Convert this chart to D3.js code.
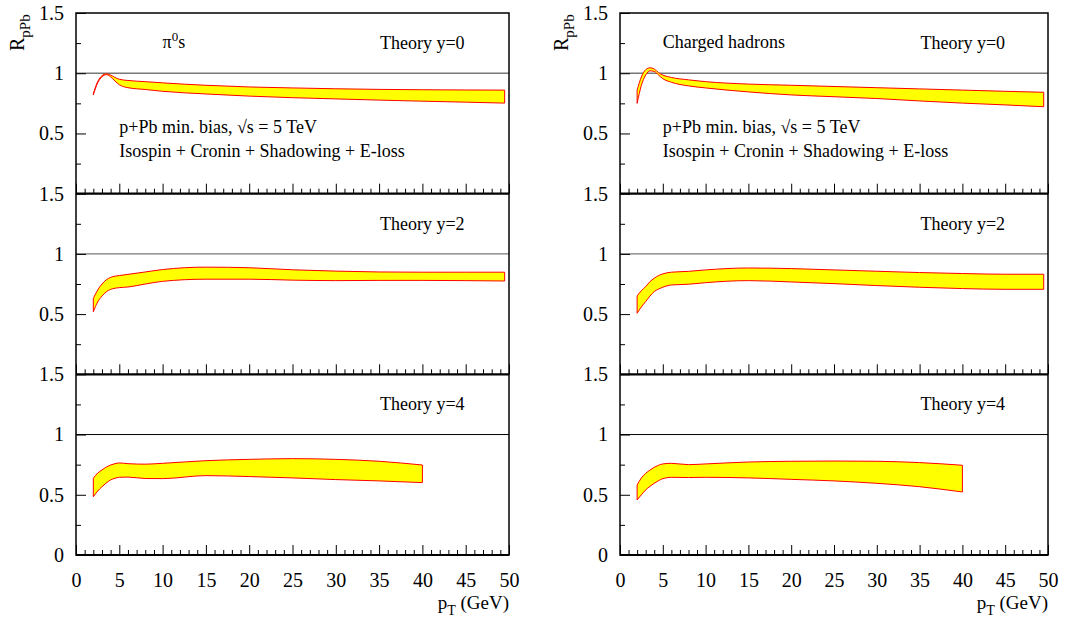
<!DOCTYPE html>
<html>
<head>
<meta charset="utf-8">
<script src="https://cdn.jsdelivr.net/npm/d3@7"></script>
<style>
  body { margin: 0; background: #fff; }
  text { font-family: "Liberation Serif", "Times New Roman", serif; fill: #000; }
</style>
</head>
<body>
<svg id="chart" width="1069" height="621"></svg>
<script>
// pT grids (GeV) of the theory bands
let ptFull  = [2, 2.5, 3, 3.5, 4, 4.5, 5, 6, 8, 10, 15, 20, 25, 30, 35, 40, 45, 49.5];
let ptShort = [2, 2.5, 3, 3.5, 4, 4.5, 5, 6, 8, 10, 15, 20, 25, 30, 35, 40];

// pi0, y=0
let pi0Y0Upper = [0.83, 0.93, 0.98, 0.995, 0.985, 0.965, 0.95, 0.94, 0.93, 0.92, 0.90, 0.886, 0.878, 0.871, 0.866, 0.863, 0.861, 0.86];
let pi0Y0Lower = [0.82, 0.92, 0.97, 0.988, 0.97, 0.935, 0.905, 0.88, 0.865, 0.85, 0.828, 0.81, 0.797, 0.787, 0.777, 0.768, 0.76, 0.752];
// charged hadrons, y=0
let chY0Upper = [0.86, 0.97, 1.03, 1.045, 1.035, 1.005, 0.985, 0.965, 0.945, 0.93, 0.91, 0.9, 0.89, 0.88, 0.87, 0.86, 0.85, 0.842];
let chY0Lower = [0.75, 0.9, 0.985, 1.02, 1.015, 0.985, 0.955, 0.925, 0.895, 0.878, 0.845, 0.82, 0.805, 0.79, 0.77, 0.752, 0.737, 0.722];
// pi0, y=2
let pi0Y2Upper = [0.63, 0.70, 0.75, 0.785, 0.805, 0.815, 0.82, 0.83, 0.85, 0.87, 0.89, 0.885, 0.868, 0.857, 0.85, 0.848, 0.848, 0.848];
let pi0Y2Lower = [0.52, 0.60, 0.65, 0.685, 0.705, 0.715, 0.72, 0.725, 0.75, 0.772, 0.79, 0.79, 0.782, 0.778, 0.78, 0.78, 0.778, 0.775];
// charged hadrons, y=2
let chY2Upper = [0.651, 0.695, 0.728, 0.77, 0.798, 0.82, 0.834, 0.848, 0.855, 0.867, 0.883, 0.878, 0.867, 0.856, 0.845, 0.837, 0.831, 0.831];
let chY2Lower = [0.507, 0.56, 0.604, 0.65, 0.687, 0.708, 0.723, 0.742, 0.748, 0.761, 0.778, 0.767, 0.753, 0.737, 0.723, 0.712, 0.706, 0.706];
// pi0, y=4
let pi0Y4Upper = [0.637, 0.68, 0.706, 0.73, 0.747, 0.758, 0.764, 0.758, 0.754, 0.761, 0.783, 0.794, 0.8, 0.794, 0.778, 0.747];
let pi0Y4Lower = [0.484, 0.53, 0.567, 0.598, 0.623, 0.637, 0.645, 0.647, 0.635, 0.634, 0.659, 0.651, 0.64, 0.626, 0.615, 0.601];
// charged hadrons, y=4
let chY4Upper = [0.581, 0.64, 0.678, 0.705, 0.728, 0.745, 0.756, 0.761, 0.75, 0.756, 0.772, 0.778, 0.78, 0.778, 0.767, 0.745];
let chY4Lower = [0.457, 0.50, 0.54, 0.57, 0.595, 0.617, 0.634, 0.645, 0.643, 0.645, 0.64, 0.628, 0.615, 0.595, 0.567, 0.523];

let theoryLabels = ["Theory y=0", "Theory y=2", "Theory y=4"];
let xMajorTicks = d3.range(0, 51, 5);
let xMinorTicks = d3.range(0, 51, 1).filter(d => d % 5 !== 0);
let yMajorTicks = [0, 0.5, 1, 1.5];
let yMinorTicks = [0.25, 0.75, 1.25];

// layout
let colX = [[76, 509], [620, 1048]];
let rowY = [13, 193.7, 374.3, 555];
let fontFamily = '"Liberation Serif", "Times New Roman", serif';

let svg = d3.select("#chart");

let panels = [
  { col: 0, row: 0, pt: ptFull,  up: pi0Y0Upper, lo: pi0Y0Lower },
  { col: 1, row: 0, pt: ptFull,  up: chY0Upper,  lo: chY0Lower },
  { col: 0, row: 1, pt: ptFull,  up: pi0Y2Upper, lo: pi0Y2Lower },
  { col: 1, row: 1, pt: ptFull,  up: chY2Upper,  lo: chY2Lower },
  { col: 0, row: 2, pt: ptShort, up: pi0Y4Upper, lo: pi0Y4Lower },
  { col: 1, row: 2, pt: ptShort, up: chY4Upper,  lo: chY4Lower }
];

function styleAxis(g, size) {
  g.attr("font-family", fontFamily).attr("font-size", size);
  g.select(".domain").remove();
  g.selectAll(".tick line").attr("stroke", "#000").attr("stroke-width", 1);
}

panels.forEach(function(p) {
  let x = d3.scaleLinear().domain([0, 50]).range(colX[p.col]);
  let y = d3.scaleLinear().domain([0, 1.5]).range([rowY[p.row + 1], rowY[p.row]]);
  let g = svg.append("g");
  let bottom = p.row === 2;

  // reference line at R = 1
  g.append("line")
    .attr("x1", x(0)).attr("x2", x(50))
    .attr("y1", y(1)).attr("y2", y(1))
    .attr("stroke", bottom ? "#000" : "#777")
    .attr("stroke-width", bottom ? 1 : 1.3);

  // theory band
  let band = p.pt.map((v, i) => ({ pt: v, lo: p.lo[i], up: p.up[i] }));
  g.append("path")
    .datum(band)
    .attr("d", d3.area()
      .x(d => x(d.pt))
      .y0(d => y(d.lo))
      .y1(d => y(d.up))
      .curve(d3.curveMonotoneX))
    .attr("fill", "#ffff00")
    .attr("stroke", "#ff0000")
    .attr("stroke-width", 1)
    .attr("stroke-linejoin", "round");

  // y axis, ticks pointing inward
  g.append("g")
    .attr("transform", "translate(" + x(0) + ",0)")
    .call(d3.axisLeft(y)
      .tickValues(bottom ? yMajorTicks : yMajorTicks.slice(1))
      .tickSize(-10).tickPadding(12)
      .tickFormat(d3.format("")))
    .call(styleAxis, 20);
  g.append("g")
    .attr("transform", "translate(" + x(0) + ",0)")
    .call(d3.axisLeft(y).tickValues(yMinorTicks).tickSize(-5).tickFormat(""))
    .call(styleAxis, 20);

  // x axis at bottom of each panel, ticks pointing up
  g.append("g")
    .attr("transform", "translate(0," + y(0) + ")")
    .call(d3.axisBottom(x)
      .tickValues(xMajorTicks)
      .tickSize(-10).tickPadding(18)
      .tickFormat(bottom ? d3.format("") : ""))
    .call(styleAxis, 20);
  g.append("g")
    .attr("transform", "translate(0," + y(0) + ")")
    .call(d3.axisBottom(x).tickValues(xMinorTicks).tickSize(-5).tickFormat(""))
    .call(styleAxis, 20);

  // panel label
  g.append("text")
    .attr("x", x(35.1)).attr("y", y(1.2))
    .attr("font-size", 18)
    .text(theoryLabels[p.row]);

  if (p.row === 0) {
    if (p.col === 0) {
      let t = g.append("text").attr("x", x(10)).attr("y", y(1.21)).attr("font-size", 18);
      t.append("tspan").text("\u03c0");
      t.append("tspan").attr("font-size", 13).attr("dy", -7).text("0");
      t.append("tspan").attr("dy", 7).text("s");
    } else {
      g.append("text").attr("x", x(5)).attr("y", y(1.21)).attr("font-size", 18).text("Charged hadrons");
    }
    g.append("text").attr("x", x(5)).attr("y", y(0.505)).attr("font-size", 18)
      .text("p+Pb min. bias, \u221as = 5 TeV");
    g.append("text").attr("x", x(5)).attr("y", y(0.305)).attr("font-size", 18)
      .text("Isospin + Cronin + Shadowing + E-loss");
  }
});

// frames, axis titles
colX.forEach(function(c) {
  svg.append("rect")
    .attr("x", c[0]).attr("y", rowY[0])
    .attr("width", c[1] - c[0]).attr("height", rowY[3] - rowY[0])
    .attr("fill", "none").attr("stroke", "#000").attr("stroke-width", 1.5);
  [rowY[1], rowY[2], rowY[3]].forEach(function(yy) {
    svg.append("line")
      .attr("x1", c[0]).attr("x2", c[1]).attr("y1", yy).attr("y2", yy)
      .attr("stroke", "#000").attr("stroke-width", 2.2);
  });

  let yt = svg.append("text")
    .attr("transform", "translate(" + (c[0] - 52) + ",51) rotate(-90)")
    .attr("font-size", 20);
  yt.append("tspan").text("R");
  yt.append("tspan").attr("font-size", 15).attr("dy", 6).text("pPb");

  let xt = svg.append("text")
    .attr("x", c[1]).attr("y", 609)
    .attr("text-anchor", "end")
    .attr("font-size", 19);
  xt.append("tspan").text("p");
  xt.append("tspan").attr("font-size", 14).attr("dy", 6).text("T");
  xt.append("tspan").attr("dy", -6).text(" (GeV)");
});
</script>
</body>
</html>
